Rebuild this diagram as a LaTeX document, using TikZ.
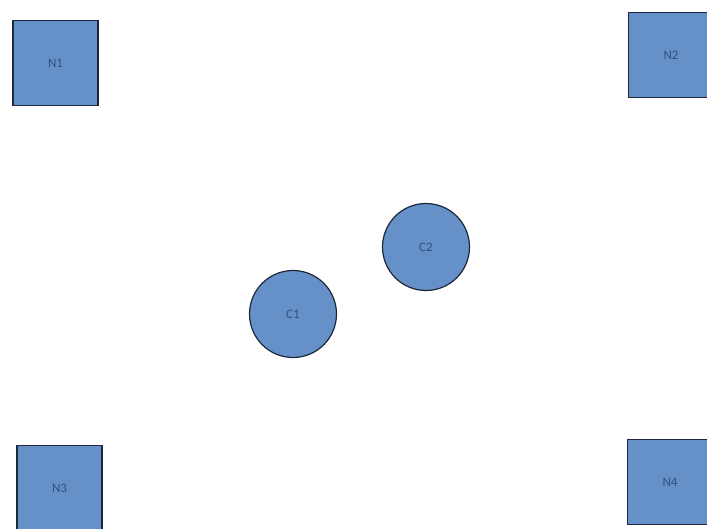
\documentclass[tikz,border=0pt]{standalone}
\usepackage{fontspec}
\setmainfont{Carlito}
\usetikzlibrary{positioning}
\definecolor{nfill}{RGB}{101,145,200}
\definecolor{nline}{RGB}{30,40,60}
\definecolor{ntext}{RGB}{50,80,125}

\begin{document}
\begin{tikzpicture}[x=1pt, y=-1pt,
    sq/.style={rectangle, draw=nline, line width=1.5pt, fill=nfill, minimum width=85pt, minimum height=85pt, font=\fontsize{13}{14}\selectfont\color{ntext}},
    cl/.style={circle, draw=nline, line width=1.2pt, fill=nfill, minimum size=87pt, inner sep=0pt, font=\fontsize{13}{14}\selectfont\color{ntext}}
]
    \clip (0,0) rectangle (707,529);
    \fill[white] (0,0) rectangle (707,529);

    % Corner squares
    \node[sq] (n1) at (55.5, 63) {N1};
    \node[sq] (n2) at (671, 55) {N2};
    \node[sq] (n3) at (59.5, 488) {N3};
    \node[sq] (n4) at (670, 482) {N4};

    % Circles in the middle
    \node[cl] (c1) at (293, 314) {C1};
    \node[cl] (c2) at (426, 247) {C2};
\end{tikzpicture}
\end{document}
